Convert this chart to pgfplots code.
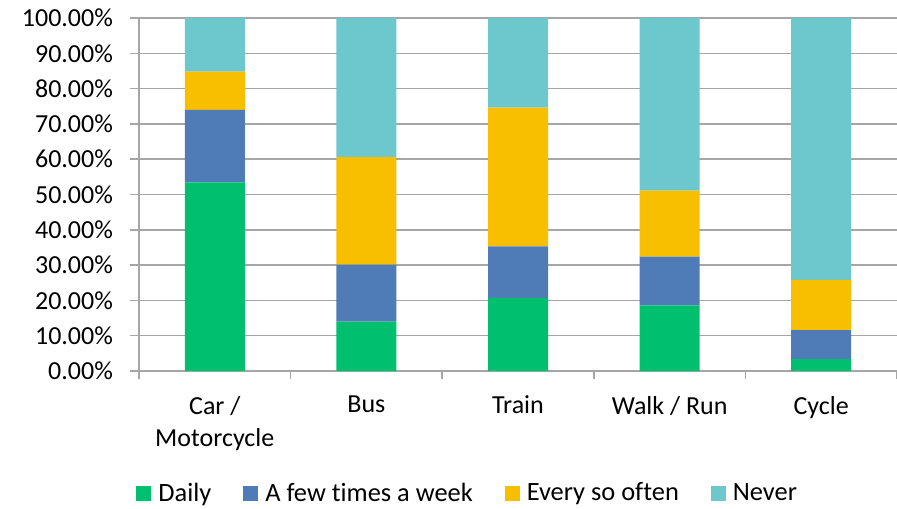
\documentclass[border=0pt]{standalone}
\usepackage{pgfplots}
\pgfplotsset{compat=1.18}
\usepackage{fontspec}
\setmainfont[Ligatures={NoCommon}]{Carlito}

\definecolor{cDaily}{HTML}{00BF6F}
\definecolor{cWeek}{HTML}{4F7BB6}
\definecolor{cOften}{HTML}{F8BE00}
\definecolor{cNever}{HTML}{6CC8CC}
\definecolor{gridgray}{HTML}{A6A6A6}

\begin{document}
\fontsize{13pt}{16.5pt}\selectfont
\begin{tikzpicture}
\useasboundingbox (-69.5pt,-68.5pt) rectangle (379pt,185.5pt);
\begin{axis}[
    at={(0pt,0pt)}, anchor=south west,
    scale only axis,
    width=379pt, height=176.5pt,
    ybar stacked,
    bar width=30pt,
    xmin=-0.5, xmax=4.5,
    ymin=0, ymax=100,
    xtick={0,1,2,3,4},
    xticklabels={{Car /\\Motorcycle},Bus,Train,{Walk / Run},Cycle},
    xticklabel style={align=center, yshift=-3.5pt,
        font=\fontsize{13pt}{16pt}\selectfont},
    minor xtick={-0.5,0.5,1.5,2.5,3.5,4.5},
    ytick={0,10,...,100},
    yticklabel={\pgfmathprintnumber[fixed,fixed zerofill,precision=2]{\tick}\%},
    /pgf/number format/assume math mode=true,
    yticklabel style={font=\fontsize{13pt}{16.5pt}\selectfont, xshift=-4pt},
    tick align=outside,
    major tick length=4.5pt,
    minor tick length=4pt,
    major x tick style={draw=none},
    tick style={gridgray, line width=0.75pt},
    axis x line*=bottom,
    axis y line*=left,
    axis line style={gridgray, line width=0.75pt, -},
    ymajorgrids,
    grid style={gridgray, line width=0.75pt},
    legend columns=4,
    legend style={at={(-0.004,-0.348)}, anchor=west, draw=none,
        inner sep=0pt, font=\fontsize{13.2pt}{16.5pt}\selectfont,
        /tikz/every odd column/.append style={column sep=1.5pt},
        /tikz/every even column/.append style={column sep=14pt}},
    legend image code/.code={\fill[#1] (0pt,-3.75pt) rectangle (7.5pt,3.75pt);},
]
\addplot[fill=cDaily, draw=none] coordinates {(0,53.4) (1,14.0) (2,20.7) (3,18.6) (4,3.4)};
\addlegendentry{Daily}
\addplot[fill=cWeek, draw=none] coordinates {(0,20.6) (1,16.1) (2,14.6) (3,13.8) (4,8.2)};
\addlegendentry{A few times a week}
\addplot[fill=cOften, draw=none] coordinates {(0,10.8) (1,30.5) (2,39.3) (3,18.7) (4,14.2)};
\addlegendentry{Every so often}
\addplot[fill=cNever, draw=none] coordinates {(0,15.2) (1,39.4) (2,25.4) (3,48.9) (4,74.2)};
\addlegendentry{Never}
\end{axis}
\end{tikzpicture}
\end{document}
